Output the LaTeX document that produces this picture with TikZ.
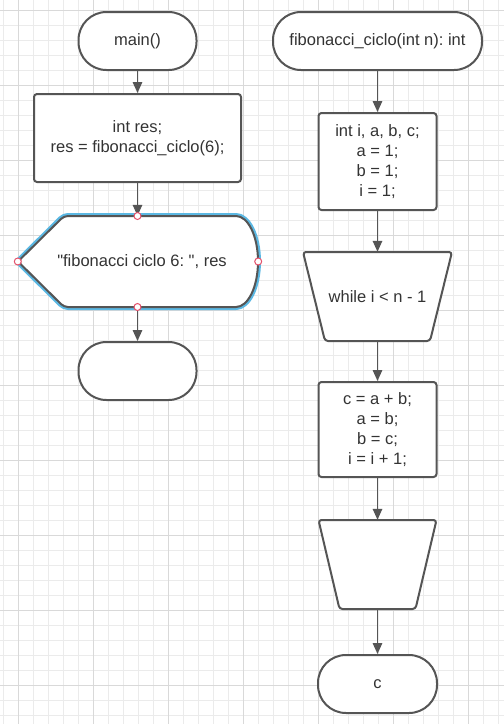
\documentclass[tikz,border=0pt]{standalone}
\usepackage{fontspec}
\setmainfont{Liberation Sans}
\usetikzlibrary{arrows.meta}
\frenchspacing
\definecolor{shapegray}{HTML}{555555}
\definecolor{textgray}{HTML}{333333}
\definecolor{gridminor}{HTML}{EBEBEB}
\definecolor{gridmajor}{HTML}{D9D9D9}
\definecolor{selblue}{HTML}{5BB8E3}
\definecolor{handlered}{HTML}{E4506A}
\begin{document}
\begin{tikzpicture}[x=1pt,y=-1pt,
  every node/.style={font=\fontsize{16.5}{20}\selectfont\frenchspacing, text=textgray, align=center},
  term/.style={draw=shapegray, line width=2pt, fill=white, rounded corners=28pt, minimum height=58pt, inner sep=0pt},
  proc/.style={draw=shapegray, line width=2pt, fill=white, rounded corners=3pt, inner sep=0pt},
  ghost/.style={draw=none, inner sep=0pt},
  shapeline/.style={draw=shapegray, line width=2pt, fill=white, line join=round},
  flow/.style={draw=shapegray, line width=1.5pt, -{Triangle[length=11pt,width=9.5pt]}},
  handle/.style={circle, draw=handlered, fill=white, line width=1pt, minimum size=7pt, inner sep=0pt}]
\useasboundingbox (0,0) rectangle (504,724);
\fill[white] (0,0) rectangle (504,724);
% grid
\foreach \i in {0,...,33} \draw[gridminor, line width=1pt] ({3.3+15*\i},0) -- ({3.3+15*\i},724);
\foreach \i in {0,...,47} \draw[gridminor, line width=1pt] (0,{10.5+15*\i}) -- (504,{10.5+15*\i});
\foreach \i in {0,...,6} \draw[gridmajor, line width=1pt] ({18.3+75*\i},0) -- ({18.3+75*\i},724);
\foreach \i in {0,...,9} \draw[gridmajor, line width=1pt] (0,{10.5+75*\i}) -- (504,{10.5+75*\i});

% left column
\node[term, minimum width=118pt] (mainT) at (137.5,41) {main()};
\node[proc, minimum width=207pt, minimum height=88pt] (decl) at (137.5,138) {int res;\\res = fibonacci\_ciclo(6);};

% display shape with selection outline
\draw[selblue, line width=6pt, line join=round] (236,307) [rounded corners=4pt] -- (64,307) -- (18,261.5) -- (64,216) [sharp corners] -- (236,216) .. controls (248,216) and (258,236) .. (258,261.5) .. controls (258,287) and (248,307) .. (236,307) -- cycle;
\draw[shapeline] (236,307) [rounded corners=4pt] -- (64,307) -- (18,261.5) -- (64,216) [sharp corners] -- (236,216) .. controls (248,216) and (258,236) .. (258,261.5) .. controls (258,287) and (248,307) .. (236,307) -- cycle;
\node[ghost, minimum width=240pt, minimum height=91pt] (disp) at (138,261.5) {};
\node[ghost] (dispT) at (142,261.5) {\textquotedbl fibonacci ciclo 6: \textquotedbl, res};

\node[term, minimum width=118pt] (endT) at (137.5,371) {};

\draw[flow] (mainT.south) -- (decl.north);
\draw[flow] (decl.south) -- (decl.south |- disp.north);
\draw[flow] (decl.south |- disp.south) -- (endT.north);

\node[handle] (hN) at (137.5,216) {};
\node[handle] (hW) at (disp.west) {};
\node[handle] (hE) at (disp.east) {};
\node[handle] (hS) at (137.5,307) {};

% right column
\node[term, minimum width=209pt] (fibT) at (377.5,41) {fibonacci\_ciclo(int n): int};
\node[proc, minimum width=118pt, minimum height=97pt] (init) at (377.5,161.5) {int i, a, b, c;\\a = 1;\\b = 1;\\i = 1;};

\draw[shapeline, rounded corners=3pt] (303,252) -- (452,252) -- (430,341) -- (325,341) -- cycle;
\node[ghost, minimum width=149pt, minimum height=89pt] (wh) at (377.5,296.5) {while i < n - 1};

\node[proc, minimum width=118pt, minimum height=95pt] (body) at (377.5,429.5) {c = a + b;\\a = b;\\b = c;\\i = i + 1;};

\draw[shapeline, rounded corners=3pt] (318.5,520) -- (436.5,520) -- (415.5,609) -- (339.5,609) -- cycle;
\node[ghost, minimum width=118pt, minimum height=89pt] (tr) at (377.5,564.5) {};

\node[term, minimum width=119pt] (cT) at (377.5,684) {c};

\draw[flow] (fibT.south) -- (init.north);
\draw[flow] (init.south) -- (wh.north);
\draw[flow] (wh.south) -- (body.north);
\draw[flow] (body.south) -- (tr.north);
\draw[flow] (tr.south) -- (cT.north);
\end{tikzpicture}
\end{document}
